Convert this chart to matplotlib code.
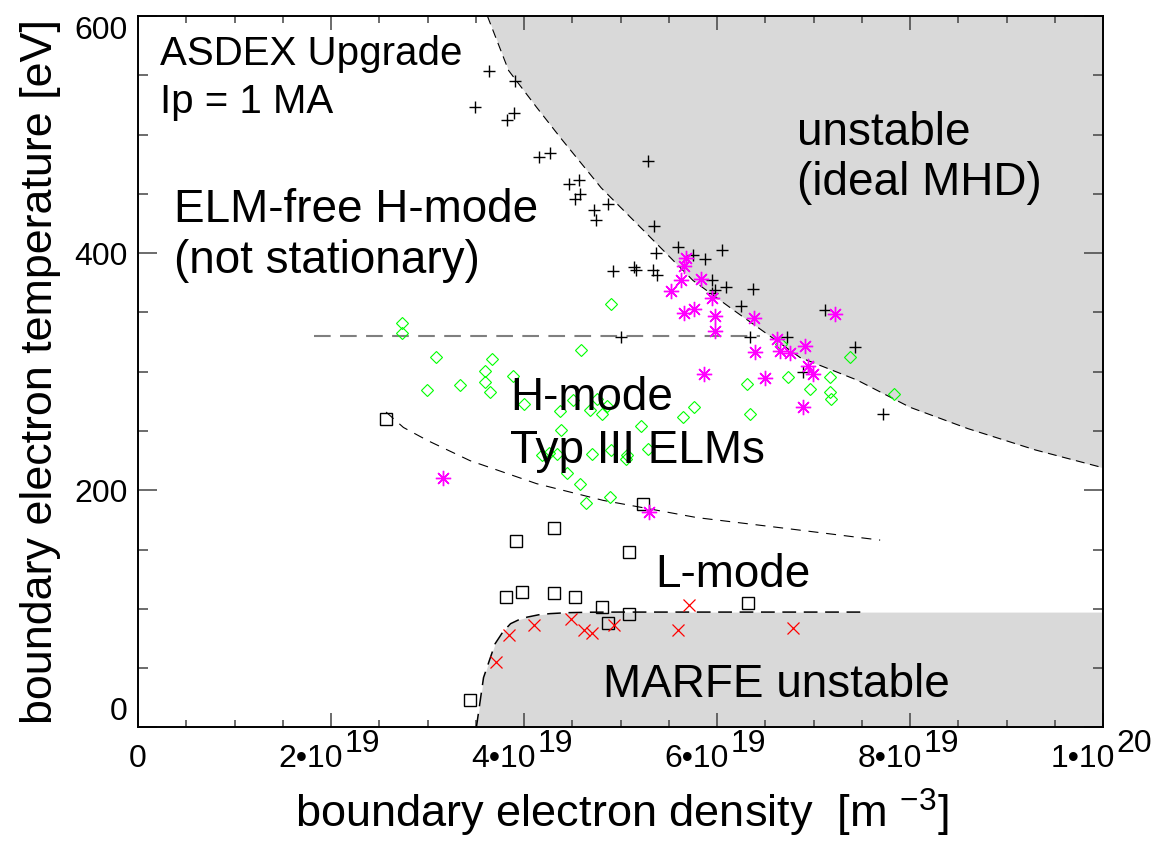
import matplotlib
matplotlib.use("Agg")
import matplotlib.pyplot as plt
import numpy as np

plt.rcParams['font.family'] = ['Liberation Sans', 'DejaVu Sans']
plt.rcParams['mathtext.fontset'] = 'custom'
plt.rcParams['mathtext.rm'] = 'Liberation Sans'
plt.rcParams['mathtext.it'] = 'Liberation Sans'

# densities in 1e19 m^-3, temperatures in eV
# ELM-free H-mode (+)
elmfree_n = [3.640, 3.910, 3.488, 3.896, 3.824, 4.159, 4.273, 5.281, 4.469, 4.566, 4.532, 4.583,
             4.721, 4.742, 4.870, 5.343, 5.368, 5.592, 4.918, 5.136, 5.164, 5.337, 5.378, 5.751,
             5.872, 6.050, 5.946, 6.091, 6.373, 5.948, 5.975, 6.252, 5.005, 6.342, 6.721, 7.115,
             7.426, 6.887, 7.716]
elmfree_T = [553.6, 545.1, 523.0, 518.4, 512.2, 481.3, 484.6, 477.9, 458.2, 461.6, 445.3, 449.5,
             436.3, 427.8, 441.4, 423.0, 400.3, 405.3, 384.6, 388.4, 386.2, 386.2, 381.7, 398.1,
             394.7, 402.8, 377.0, 371.6, 369.6, 366.5, 368.8, 355.3, 329.4, 329.4, 328.9, 351.9,
             321.1, 300.0, 264.0]

# ELM-ing shots near the limit (*)
star_n = [5.682, 5.661, 5.630, 5.526, 5.834, 5.948, 5.661, 5.765, 5.975, 5.975, 6.379, 6.620,
          6.651, 6.390, 6.760, 6.908, 6.939, 6.990, 5.868, 6.497, 6.889, 7.219, 3.161, 5.291]
star_T = [395.8, 389.5, 377.5, 367.9, 378.2, 361.8, 349.6, 353.0, 346.8, 334.2, 344.9, 328.0,
          317.6, 316.7, 315.4, 321.5, 304.6, 298.1, 297.9, 294.5, 270.6, 348.4, 210.1, 181.7]

# type III ELMy H-mode (diamonds)
typ3_n = [4.902, 2.736, 2.736, 4.591, 3.088, 3.672, 3.599, 3.599, 3.648, 3.882, 3.340, 2.991,
          3.996, 4.504, 4.369, 4.682, 4.756, 4.863, 4.803, 4.383, 5.210, 5.644, 5.758, 4.187,
          4.262, 4.342, 4.701, 4.902, 5.067, 5.060, 5.288, 4.443, 4.584, 4.646, 4.894, 6.662,
          7.381, 6.732, 7.167, 6.967, 7.167, 7.177, 7.830, 6.311, 6.345]
typ3_T = [356.7, 341.2, 332.7, 317.9, 312.8, 310.5, 300.4, 291.4, 283.3, 296.5, 288.6, 285.0,
          272.6, 276.4, 266.7, 268.1, 277.4, 270.9, 264.7, 251.2, 254.4, 261.6, 270.3, 230.1,
          231.8, 230.4, 231.0, 234.3, 229.5, 226.2, 235.2, 214.6, 205.3, 189.3, 194.3, 323.0,
          312.5, 295.8, 295.6, 285.4, 282.9, 276.6, 281.3, 290.0, 264.1]

# L-mode (squares)
lmode_n = [5.229, 4.311, 3.920, 5.088, 3.813, 3.975, 4.311, 4.528, 4.811, 5.088, 4.870, 3.440,
           6.321, 2.573]
lmode_T = [188.2, 167.9, 157.6, 147.7, 109.7, 114.2, 113.3, 109.7, 101.3, 95.4, 87.8, 22.8,
           105.2, 260.5]

# MARFE (x)
marfe_n = [3.710, 3.840, 4.104, 4.490, 4.618, 4.705, 4.928, 5.592, 5.706, 6.783]
marfe_T = [55.1, 77.6, 86.7, 91.1, 81.9, 79.6, 86.1, 81.9, 103.0, 84.1]

# ideal MHD stability boundary
mhd_n = [3.62, 3.84, 4.13, 4.39, 4.80, 5.24, 5.75, 6.17, 6.86, 7.45, 8.00, 8.60, 9.30, 10.0]
mhd_T = [600, 554, 523, 496, 455, 419, 377, 352, 312, 293, 270, 252, 234, 219]

# MARFE onset boundary
mb_n = [3.506, 3.58, 3.70, 3.78, 3.86, 3.95, 4.03, 4.15, 4.27, 4.45, 4.70, 5.00, 7.54]
mb_T = [0, 42, 70.6, 80.5, 87.5, 91, 93, 95, 96, 96.8, 97.2, 97.3, 97.3]

# L-H transition threshold
lh_n = [2.57, 2.75, 3.0, 3.44, 4.13, 4.82, 5.79, 6.7, 7.69]
lh_T = [266, 253, 242, 225, 205.6, 191.5, 177, 168, 158]

# ELM-free / type III separation
sep_n = [1.82, 6.45]
sep_T = [330, 330]

e19 = 1e19
arr = lambda v: np.asarray(v, dtype=float)

fig = plt.figure(figsize=(11.57, 8.41), dpi=100)
ax = fig.add_axes([0.1193, 0.1350, 0.8341, 0.8460])
ax.set_xlim(0, 1e20)
ax.set_ylim(0, 600)

shade = '#d9d9d9'
ax.fill_between(arr(mhd_n) * e19, arr(mhd_T), 600, color=shade, lw=0, zorder=0)
mfill_n = np.append(arr(mb_n), 10.0) * e19
mfill_T = np.append(arr(mb_T), 97.3)
ax.fill_between(mfill_n, 0, mfill_T, color=shade, lw=0, zorder=0)

ax.plot(arr(mhd_n) * e19, mhd_T, color='k', lw=0.8, dashes=(8, 5), zorder=2)
ax.plot(arr(mb_n) * e19, mb_T, color='k', lw=1.1, dashes=(9, 5), zorder=2)
ax.plot(arr(lh_n) * e19, lh_T, color='k', lw=0.8, dashes=(9, 7), zorder=2)
ax.plot(arr(sep_n) * e19, sep_T, color='#7f7f7f', lw=1.5, dashes=(8, 4.5), zorder=2)

ax.plot(arr(typ3_n) * e19, typ3_T, ls='none', marker='D', ms=5.8, mfc='none',
        mec='#00ff00', mew=0.8, zorder=3)
ax.plot(arr(lmode_n) * e19, lmode_T, ls='none', marker='s', ms=8.2, mfc='none',
        mec='k', mew=1.0, zorder=3)
ax.plot(arr(marfe_n) * e19, marfe_T, ls='none', marker='x', ms=8.5, mec='#ff0000',
        mew=0.9, zorder=3)
ax.plot(arr(elmfree_n) * e19, elmfree_T, ls='none', marker='+', ms=8, mec='k',
        mew=1.0, zorder=4)
ax.plot(arr(star_n) * e19, star_T, ls='none', marker=(8, 2, 0), ms=11, mec='#ff00ff',
        mew=1.0, zorder=4)

# region labels
big = 33
ax.text(0.0224, 0.9311, 'ASDEX Upgrade', transform=ax.transAxes, fontsize=29)
ax.text(0.0231, 0.8637, 'Ip = 1 MA', transform=ax.transAxes, fontsize=29)
ax.text(0.0369, 0.7109, 'ELM-free H-mode', transform=ax.transAxes, fontsize=big)
ax.text(0.0369, 0.6388, '(not stationary)', transform=ax.transAxes, fontsize=big)
ax.text(0.6828, 0.8187, 'unstable', transform=ax.transAxes, fontsize=big)
ax.text(0.6828, 0.7484, '(ideal MHD)', transform=ax.transAxes, fontsize=big)
ax.text(0.3856, 0.4462, 'H-mode', transform=ax.transAxes, fontsize=big)
ax.text(0.3856, 0.3722, 'Typ III ELMs', transform=ax.transAxes, fontsize=big)
ax.text(0.5357, 0.1975, 'L-mode', transform=ax.transAxes, fontsize=big)
ax.text(0.4822, 0.0429, 'MARFE unstable', transform=ax.transAxes, fontsize=big)

# ticks
xmaj = np.arange(0, 1.01e20, 2e19)
ax.set_xticks(xmaj)
ax.set_xticks(np.arange(0, 1.01e20, 5e18), minor=True)
ax.set_xticklabels([])
ax.set_yticks([0, 200, 400, 600])
ax.set_yticks(np.arange(0, 601, 50), minor=True)
ax.tick_params(which='both', direction='in', top=True, right=True, color='#444444', width=1.1)
ax.tick_params(axis='x', which='major', length=10)
ax.tick_params(axis='x', which='minor', length=5)
ax.tick_params(axis='y', which='major', length=14, labelsize=23, pad=7.5)
ax.tick_params(axis='y', which='minor', length=7)
ylabs = ax.get_yticklabels()
ylabs[0].set_va('bottom')
ylabs[-1].set_va('top')
for s in ax.spines.values():
    s.set_linewidth(1.4)

xbase = ['0', '2\u202210', '4\u202210', '6\u202210', '8\u202210', '1\u202210']
xexp = ['', '19', '19', '19', '19', '20']
for xv, b, p in zip(xmaj, xbase, xexp):
    if not p:
        ax.annotate(b, (xv, 0), xycoords=('data', 'axes fraction'), xytext=(0, -28.4),
                    textcoords='offset points', ha='center', va='baseline', fontsize=23)
        continue
    ax.annotate(b, (xv, 0), xycoords=('data', 'axes fraction'), xytext=(8.4, -28.4),
                textcoords='offset points', ha='right', va='baseline', fontsize=23)
    ax.annotate(p, (xv, 0), xycoords=('data', 'axes fraction'), xytext=(9.8, -17.6),
                textcoords='offset points', ha='left', va='baseline', fontsize=23)

fig.text(295 / 1157, (841 - 828) / 841, r'boundary electron density  [m $^{-3}$]',
         ha='left', va='baseline', fontsize=32.5)
fig.text(41 / 1157, 0.5577, 'boundary electron temperature [eV]', rotation=90,
         ha='center', va='center', fontsize=32.3)

fig.savefig('out.png', dpi=100)
